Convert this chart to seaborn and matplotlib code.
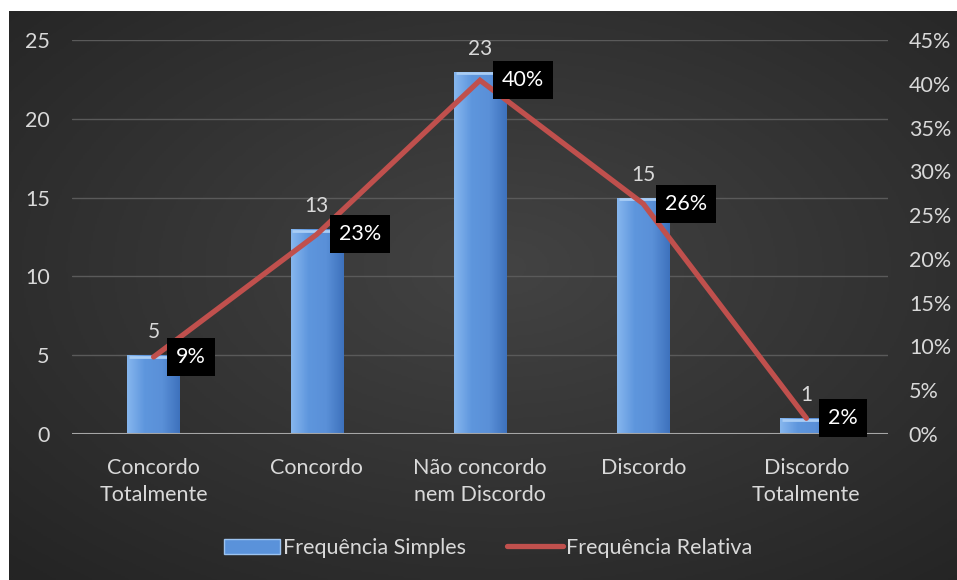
import numpy as np
import pandas as pd
import matplotlib
matplotlib.use("Agg")
import matplotlib.pyplot as plt
from matplotlib.patches import Patch
from matplotlib.lines import Line2D
from matplotlib.colors import LinearSegmentedColormap
import seaborn as sns

# ---- data -------------------------------------------------------------
categories = ["Concordo\nTotalmente", "Concordo", "Não concordo\nnem Discordo",
              "Discordo", "Discordo\nTotalmente"]
freq_simples = [5, 13, 23, 15, 1]
freq_relativa = [0.088, 0.228, 0.404, 0.263, 0.018]
left_ticks = [0, 5, 10, 15, 20, 25]
right_ticks = [0.0, 0.05, 0.10, 0.15, 0.20, 0.25, 0.30, 0.35, 0.40, 0.45]
series_names = ["Frequência Simples", "Frequência Relativa"]

# ---- style ------------------------------------------------------------
sns.set_theme(style="dark")
plt.rcParams["font.family"] = ["Lato", "DejaVu Sans"]
TXT = "#d9d9d9"
BAR = "#5a92da"
LINE = "#c0504d"
FS = 15.5

W, H = 957, 580
fig = plt.figure(figsize=(W / 100, H / 100), dpi=100)
fig.patch.set_facecolor("white")

# dark radial background panel
bg = fig.add_axes([9 / W, 0, (W - 9) / W, (H - 11) / H])
yy, xx = np.mgrid[0:1:300j, 0:1:500j]
r = np.sqrt(((xx - 0.52) / 0.75) ** 2 + ((yy - 0.55) / 0.75) ** 2)
bg_cmap = LinearSegmentedColormap.from_list("bgc", ["#434343", "#242424"])
bg.imshow(np.clip(r, 0, 1), cmap=bg_cmap, vmin=0, vmax=1, aspect="auto",
          extent=[0, 1, 0, 1], origin="lower")
bg.set_axis_off()

ax = fig.add_axes([72 / W, (H - 434) / H, 816 / W, 394 / H])
ax.patch.set_alpha(0)

df = pd.DataFrame({"cat": categories, "fs": freq_simples})
sns.barplot(data=df, x="cat", y="fs", color=BAR, width=0.32, ax=ax,
            saturation=1, edgecolor="none", zorder=3)

# bevelled gradient fill on each bar
grad_cmap = LinearSegmentedColormap.from_list(
    "barg", ["#86b6ee", "#5e96dd", "#5a90d8", "#3e72bd"])
grad = np.linspace(0, 1, 64).reshape(1, -1)
for p in list(ax.patches):
    x0, y0 = p.get_x(), p.get_y()
    w, h = p.get_width(), p.get_height()
    im = ax.imshow(grad, cmap=grad_cmap, aspect="auto",
                   extent=[x0, x0 + w, y0, y0 + h], zorder=3.5)
    im.set_clip_path(p)
    ax.plot([x0 + 0.01, x0 + w - 0.01], [y0 + h - 0.12, y0 + h - 0.12],
            color="#a9cdf5", lw=2, zorder=3.6, solid_capstyle="butt")
    ax.annotate(f"{h:.0f}", (x0 + w / 2, y0 + h), xytext=(0, 13),
                textcoords="offset pixels", ha="center", va="bottom",
                color=TXT, fontsize=FS - 0.5, zorder=6)
ax.set_ylim(0, 25)
ax.set_xlim(-0.5, len(categories) - 0.5)

ax.set_yticks(left_ticks)
ax.set_yticklabels([str(t) for t in left_ticks])
ax.grid(axis="y", color="#5a5a5a", lw=1)
ax.grid(axis="x", visible=False)
ax.set_axisbelow(True)
for s in ax.spines.values():
    s.set_visible(False)
ax.axhline(0, color="#a6a6a6", lw=1.5, zorder=4)
ax.tick_params(axis="y", colors=TXT, labelsize=FS, length=0, pad=16)
ax.tick_params(axis="x", colors=TXT, labelsize=FS, length=0, pad=17)
for lab in ax.get_xticklabels():
    lab.set_linespacing(1.45)
ax.set_xlabel("")
ax.set_ylabel("")

# relative frequency line on the secondary axis
ax2 = ax.twinx()
ax2.patch.set_alpha(0)
sns.lineplot(x=np.arange(len(categories)), y=freq_relativa, ax=ax2,
             color=LINE, lw=3.8, zorder=5, solid_capstyle="round",
             solid_joinstyle="miter")
ax2.set_ylim(0, 0.45)
ax2.set_xlim(-0.5, len(categories) - 0.5)
ax2.set_yticks(right_ticks)
ax2.set_yticklabels([f"{t:.0%}" for t in right_ticks])
ax2.tick_params(axis="y", colors=TXT, labelsize=FS, length=0, pad=15)
ax2.grid(False)
for s in ax2.spines.values():
    s.set_visible(False)
for i, v in enumerate(freq_relativa):
    ax2.annotate(f"{v:.0%}", (i, v), xytext=(22, 0),
                 textcoords="offset pixels", ha="left", va="center",
                 color="white", fontsize=FS, zorder=7,
                 bbox=dict(boxstyle="square,pad=0.42", fc="black", ec="none"))

handles = [Patch(facecolor=BAR, edgecolor="#9cc3f0", lw=1),
           Line2D([0], [0], color=LINE, lw=3.8, solid_capstyle="round")]
leg = fig.legend(handles, series_names, loc="center",
                 bbox_to_anchor=(0.51, 1 - 548 / H), ncol=2, frameon=False,
                 fontsize=FS, labelcolor=TXT, handlelength=2.6,
                 handleheight=0.75, handletextpad=0.15, columnspacing=1.9)

fig.savefig("out.png", dpi=100, facecolor=fig.get_facecolor())
